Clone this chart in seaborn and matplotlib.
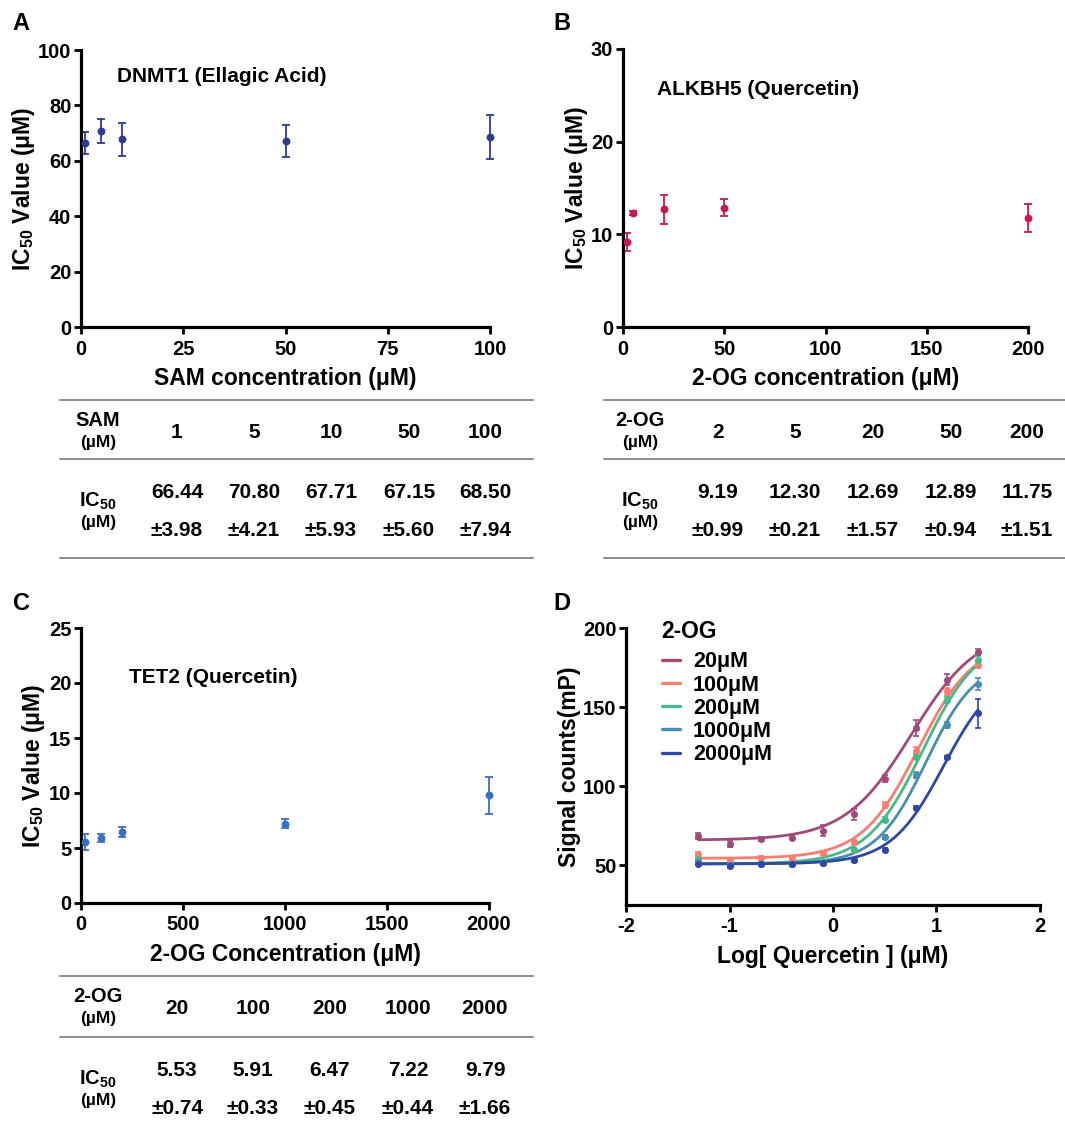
import matplotlib
matplotlib.use("Agg")
import matplotlib.pyplot as plt
import numpy as np
import pandas as pd
import seaborn as sns
from matplotlib.lines import Line2D

# panel A: DNMT1 (Ellagic Acid) vs SAM
sam_conc = [1, 5, 10, 50, 100]
sam_ic50 = [66.44, 70.80, 67.71, 67.15, 68.50]
sam_err = [3.98, 4.21, 5.93, 5.60, 7.94]

# panel B: ALKBH5 (Quercetin) vs 2-OG
alk_conc = [2, 5, 20, 50, 200]
alk_ic50 = [9.19, 12.30, 12.69, 12.89, 11.75]
alk_err = [0.99, 0.21, 1.57, 0.94, 1.51]

# panel C: TET2 (Quercetin) vs 2-OG
tet_conc = [20, 100, 200, 1000, 2000]
tet_ic50 = [5.53, 5.91, 6.47, 7.22, 9.79]
tet_err = [0.74, 0.33, 0.45, 0.44, 1.66]

# panel D: dose response, log[Quercetin]
log_q = [-1.3, -1.0, -0.7, -0.4, -0.1, 0.2, 0.5, 0.8, 1.1, 1.4]
og_labels = ["20\u03bcM", "100\u03bcM", "200\u03bcM", "1000\u03bcM", "2000\u03bcM"]
sig_20 = [68.4, 63.7, 66.7, 67.5, 71.8, 82.3, 104.9, 136.6, 167.3, 184.8]
sig_100 = [57.4, 53.6, 54.9, 54.2, 57.8, 64.8, 88.0, 122.5, 159.9, 176.8]
sig_200 = [54.2, 50.0, 51.0, 50.6, 52.1, 60.0, 78.9, 118.7, 154.6, 180.0]
sig_1000 = [52.1, 50.0, 51.0, 51.0, 51.7, 53.6, 68.0, 107.0, 138.7, 164.7]
sig_2000 = [51.0, 49.4, 50.6, 50.6, 51.5, 53.2, 60.0, 86.5, 118.2, 146.1]
err_20 = [2, 2, 1, 1, 3.5, 3.5, 2, 5, 3.5, 2]
err_100 = [1, 1, 1, 1, 1, 1, 2, 2.5, 2.5, 2]
err_200 = [1, 1, 1, 1, 1, 1, 1.5, 1.5, 2, 2.5]
err_1000 = [1, 1, 1, 1, 1, 1, 1.5, 2, 2, 4]
err_2000 = [1, 1, 1, 1, 1, 1, 1, 1, 1, 9]
# fitted 4PL parameters: bottom, top, logEC50, hill
fit_bottom = [66, 54.5, 51, 51, 51]
fit_top = [200, 192, 195, 180, 175]
fit_logec = [0.76, 0.82, 0.87, 0.90, 1.07]
fit_hill = [1.35, 1.6, 1.6, 1.8, 1.7]
og_colors = ["#A04A7C", "#F97E70", "#48B98A", "#4A8DAE", "#2F48A2"]

sns.set_style("ticks")
plt.rcParams["font.family"] = ["Liberation Sans", "DejaVu Sans"]
plt.rcParams["font.weight"] = "bold"
plt.rcParams["text.color"] = "black"
plt.rcParams["axes.labelcolor"] = "black"
plt.rcParams["xtick.color"] = "black"
plt.rcParams["ytick.color"] = "black"
plt.rcParams["axes.unicode_minus"] = False
plt.rcParams["mathtext.fontset"] = "custom"
plt.rcParams["mathtext.rm"] = "Liberation Sans:bold"
plt.rcParams["mathtext.bf"] = "Liberation Sans:bold"
plt.rcParams["mathtext.it"] = "Liberation Sans:bold"

W, H = 1065, 1130
fig = plt.figure(figsize=(W / 100, H / 100), dpi=100)


def px_axes(x0, y0, x1, y1):
    return fig.add_axes([x0 / W, 1 - y1 / H, (x1 - x0) / W, (y1 - y0) / H])


def style_axes(ax):
    sns.despine(ax=ax)
    for side in ["left", "bottom"]:
        ax.spines[side].set_linewidth(2.3)
        ax.spines[side].set_color("black")
    ax.tick_params(width=2, length=5, labelsize=14.5, color="black", labelcolor="black", pad=2)
    ax.tick_params(axis="x", pad=4)
    for lab in ax.get_xticklabels() + ax.get_yticklabels():
        lab.set_fontweight("bold")


def ic50_panel(ax, conc, vals, errs, color, xlim, xticks, ylim, yticks, xlabel, title, title_pos):
    df = pd.DataFrame({"conc": conc, "ic50": vals, "err": errs})
    ax.errorbar(df["conc"], df["ic50"], yerr=df["err"], fmt="none", ecolor=color,
                elinewidth=1.3, capsize=3, capthick=1.3, clip_on=False)
    sns.scatterplot(data=df, x="conc", y="ic50", ax=ax, color=color, s=32,
                    edgecolor=color, linewidth=0, clip_on=False, zorder=3)
    ax.set_xlim(*xlim)
    ax.set_ylim(*ylim)
    ax.set_xticks(xticks)
    ax.set_yticks(yticks)
    ax.set_xlabel(xlabel, fontsize=16.5, fontweight="bold", labelpad=6)
    ax.set_ylabel("IC$_{50}$ Value (\u03bcM)", fontsize=16.5, fontweight="bold", labelpad=1)
    ax.text(title_pos[0], title_pos[1], title, transform=ax.transAxes, fontsize=15,
            fontweight="bold", va="center")
    style_axes(ax)


def hline(x0, x1, y):
    fig.add_artist(Line2D([x0 / W, x1 / W], [1 - y / H, 1 - y / H], color="#8a8a8a", lw=1.4))


def ftext(x, y, s, size=15, ha="center"):
    fig.text(x / W, 1 - y / H, s, fontsize=size, fontweight="bold", ha=ha, va="center")


def ic50_table(x0, x1, xh, xcols, ytop, ymid, ybot, name, conc, vals, errs):
    hline(x0, x1, ytop)
    hline(x0, x1, ymid)
    if ybot is not None:
        hline(x0, x1, ybot)
    ftext(xh, ytop + 20, name, 14.5)
    ftext(xh, ytop + 43, "(\u00b5M)", 12.5)
    ftext(xh, ymid + 42, "IC$_{50}$", 14.5)
    ftext(xh, ymid + 64, "(\u00b5M)", 12.5)
    for x, c, v, e in zip(xcols, conc, vals, errs):
        ftext(x, ytop + 32, str(c), 15)
        ftext(x, ymid + 33, f"{v:.2f}", 15)
        ftext(x, ymid + 71, f"\u00b1{e:.2f}", 15)


# panel A
axA = px_axes(81, 50, 490, 327)
ic50_panel(axA, sam_conc, sam_ic50, sam_err, "#2E3A94", (0, 100), [0, 25, 50, 75, 100],
           (0, 100), [0, 20, 40, 60, 80, 100], "SAM concentration (\u03bcM)",
           "DNMT1 (Ellagic Acid)", (0.088, 0.905))
ic50_table(60, 533, 98, [177, 254, 331, 409, 485], 400, 459, 558,
           "SAM", sam_conc, sam_ic50, sam_err)

# panel B
axB = px_axes(623, 49, 1028, 327)
ic50_panel(axB, alk_conc, alk_ic50, alk_err, "#C8194F", (0, 200), [0, 50, 100, 150, 200],
           (0, 30), [0, 10, 20, 30], "2-OG concentration (\u03bcM)",
           "ALKBH5 (Quercetin)", (0.085, 0.855))
ic50_table(604, 1065, 640, [718, 795, 873, 951, 1027], 400, 459, 558,
           "2-OG", alk_conc, alk_ic50, alk_err)

# panel C
axC = px_axes(81, 628, 489, 903)
ic50_panel(axC, tet_conc, tet_ic50, tet_err, "#3A6EC6", (0, 2000), [0, 500, 1000, 1500, 2000],
           (0, 25), [0, 5, 10, 15, 20, 25], "2-OG Concentration (\u03bcM)",
           "TET2 (Quercetin)", (0.118, 0.82))
ic50_table(60, 533, 98, [177, 253, 330, 408, 485], 976, 1037, None,
           "2-OG", tet_conc, tet_ic50, tet_err)

# panel D
axD = px_axes(626, 628, 1040, 905)
series = [sig_20, sig_100, sig_200, sig_1000, sig_2000]
errors = [err_20, err_100, err_200, err_1000, err_2000]
xfit = np.linspace(min(log_q), max(log_q), 200)
handles = []
for i, lab in enumerate(og_labels):
    col = og_colors[i]
    df = pd.DataFrame({"x": log_q, "y": series[i], "e": errors[i]})
    axD.errorbar(df["x"], df["y"], yerr=df["e"], fmt="none", ecolor=col,
                 elinewidth=1.2, capsize=2.5, capthick=1.2)
    sns.scatterplot(data=df, x="x", y="y", ax=axD, color=col, s=26, linewidth=0, zorder=3)
    yfit = fit_bottom[i] + (fit_top[i] - fit_bottom[i]) / (1 + 10 ** ((fit_logec[i] - xfit) * fit_hill[i]))
    sns.lineplot(x=xfit, y=yfit, ax=axD, color=col, lw=2, zorder=2)
    handles.append(Line2D([0], [0], color=col, lw=2.4))
axD.set_xlim(-2, 2)
axD.set_ylim(25, 200)
axD.set_xticks([-2, -1, 0, 1, 2])
axD.set_yticks([50, 100, 150, 200])
axD.set_xlabel("Log[ Quercetin ] (\u03bcM)", fontsize=16.5, fontweight="bold", labelpad=6)
axD.set_ylabel("Signal counts(mP)", fontsize=16.5, fontweight="bold", labelpad=1)
leg = axD.legend(handles, og_labels, title="2-OG", loc="upper left", bbox_to_anchor=(0.055, 1.075),
                 frameon=False, handlelength=0.85, handletextpad=0.6, labelspacing=0.1,
                 borderaxespad=0.2,
                 prop={"weight": "bold", "size": 15.5},
                 title_fontproperties={"weight": "bold", "size": 16.5})
leg._legend_box.align = "left"
leg._legend_box.sep = 6
style_axes(axD)

# panel letters
for letter, x, y in [("A", 21, 24), ("B", 562, 24), ("C", 21, 603), ("D", 562, 603)]:
    ftext(x, y, letter, 17)

fig.savefig("out.png", dpi=100)
